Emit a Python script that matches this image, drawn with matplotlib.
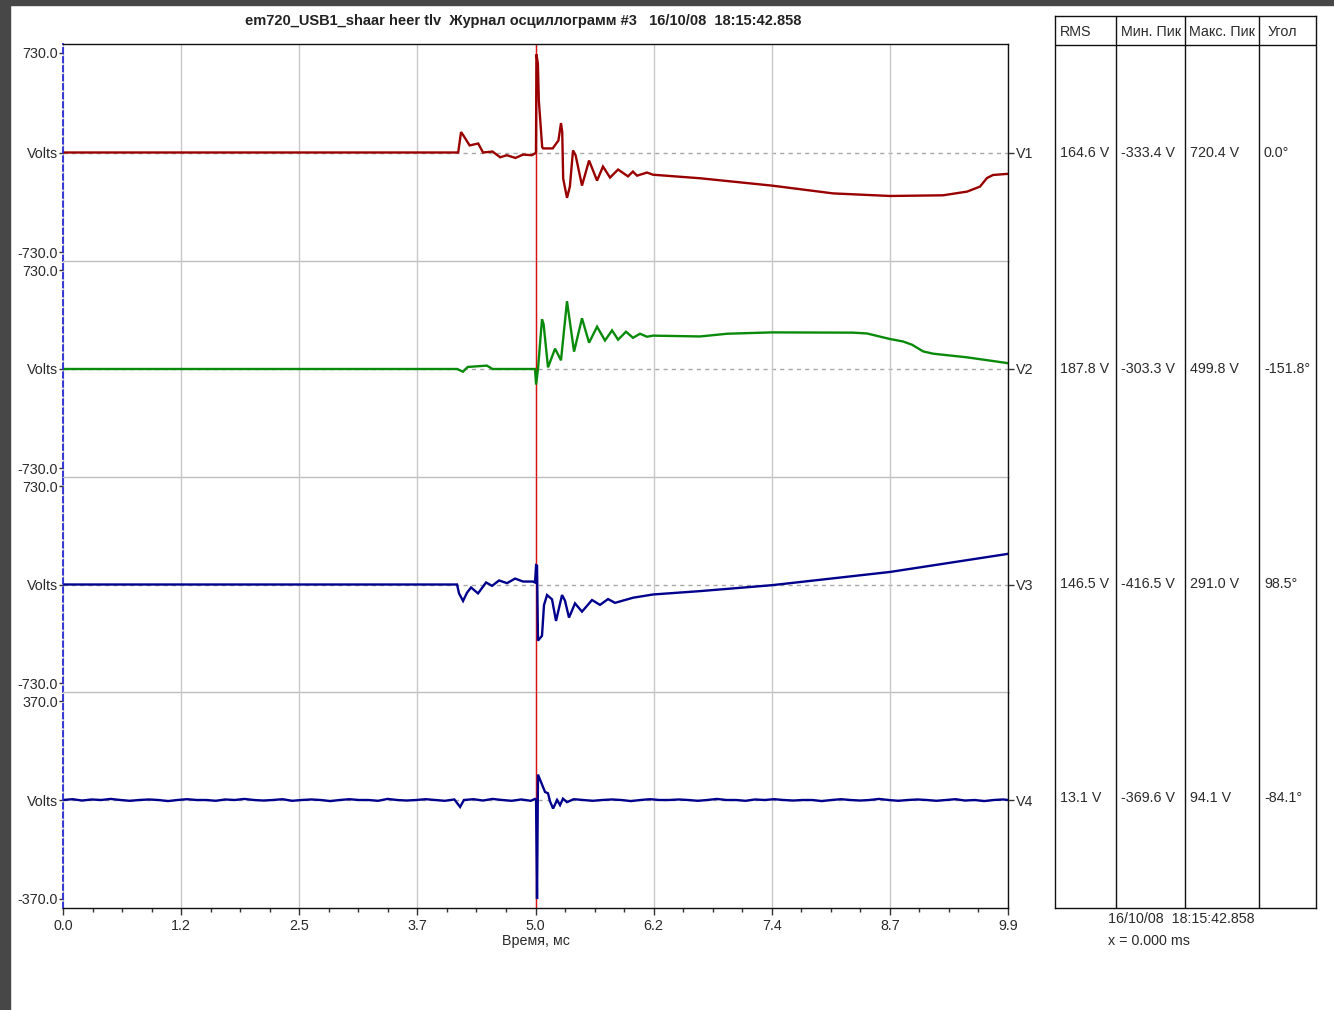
import matplotlib
matplotlib.use('Agg')
import matplotlib.pyplot as plt
from matplotlib.patches import Rectangle

plt.rcParams['font.family'] = ['Liberation Sans', 'DejaVu Sans']

# ---------------- data ----------------
title = "em720_USB1_shaar heer tlv  Журнал осциллограмм #3   16/10/08  18:15:42.858"
channels = ['V1', 'V2', 'V3', 'V4']
y_limits = [730.0, 730.0, 730.0, 370.0]
x_tick_labels = ['0.0', '1.2', '2.5', '3.7', '5.0', '6.2', '7.4', '8.7', '9.9']
t_end = 9.9
cursor_t = 4.95

t1 = [0.0, 4.14, 4.17, 4.19, 4.26, 4.35, 4.40, 4.50, 4.58, 4.65, 4.74, 4.82, 4.91, 4.945,
      4.955, 4.96, 4.975, 4.985, 5.02, 5.03, 5.13, 5.19, 5.217, 5.23, 5.24, 5.28, 5.31, 5.343,
      5.37, 5.437, 5.511, 5.595, 5.657, 5.731, 5.815, 5.919, 5.97, 6.014, 6.118, 6.181, 6.674,
      7.428, 8.067, 8.664, 9.219, 9.471, 9.607, 9.68, 9.743, 9.89, 9.9]
v1 = [0, 0, 150, 130, 52, 66, 0, 7, -35, -20, -40, -15, -20, -7,
      0, 720, 650, 380, 40, 30, 30, 88, 216, 150, -192, -333, -250, 15,
      -20, -243, -59, -206, -103, -184, -125, -175, -140, -170, -147, -163, -189,
      -243, -300, -319, -314, -287, -250, -187, -165, -157, -157]

t2 = [0.0, 4.13, 4.19, 4.24, 4.44, 4.50, 4.945, 4.956, 4.976, 5.018, 5.035, 5.081, 5.155,
      5.217, 5.28, 5.354, 5.437, 5.511, 5.595, 5.678, 5.752, 5.815, 5.898, 5.972, 6.045,
      6.118, 6.181, 6.674, 6.957, 7.428, 8.277, 8.423, 8.664, 8.80, 8.895, 9.01, 9.115,
      9.471, 9.89, 9.9]
v2 = [0, 0, -20, 15, 25, 0, 0, -115, 0, 366, 330, 12, 150,
      64, 500, 128, 374, 194, 312, 210, 285, 216, 275, 230, 260,
      238, 246, 240, 260, 270, 268, 262, 221, 203, 179, 130, 113,
      86, 44, 42]

t3 = [0.0, 4.128, 4.149, 4.191, 4.233, 4.275, 4.348, 4.432, 4.495, 4.568, 4.652, 4.736,
      4.819, 4.924, 4.945, 4.956, 4.966, 4.976, 5.018, 5.039, 5.071, 5.123, 5.165, 5.228,
      5.259, 5.301, 5.364, 5.437, 5.542, 5.626, 5.71, 5.783, 5.972, 6.181, 6.674, 7.428,
      8.664, 9.89, 9.9]
v3 = [0, 0, -66, -122, -60, -22, -66, 15, -10, 30, 10, 44,
      22, 22, 15, 143, 140, -416, -380, -152, -78, -110, -270, -78,
      -120, -245, -140, -201, -115, -151, -108, -136, -98, -74, -49, -5,
      93, 226, 228]

t4 = [0.0, 0.1, 0.2, 0.3, 0.4, 0.5, 0.6, 0.7, 0.8, 0.9,
      1.0, 1.1, 1.2, 1.3, 1.4, 1.5, 1.6, 1.7, 1.8, 1.9,
      2.0, 2.1, 2.2, 2.3, 2.4, 2.5, 2.6, 2.7, 2.8, 2.9,
      3.0, 3.1, 3.2, 3.3, 3.4, 3.5, 3.6, 3.7, 3.8, 3.9,
      4.0, 4.1, 4.16, 4.2, 4.3, 4.4, 4.5, 4.6, 4.7, 4.8, 4.9, 4.945,
      4.956, 4.966, 4.976, 5.018, 5.05, 5.081, 5.102, 5.134, 5.176, 5.207, 5.238, 5.28,
      5.35, 5.45, 5.55, 5.65, 5.75, 5.85, 5.95, 6.05, 6.15, 6.25,
      6.35, 6.45, 6.55, 6.65, 6.75, 6.85, 6.95, 7.05, 7.15, 7.25,
      7.35, 7.45, 7.55, 7.65, 7.75, 7.85, 7.95, 8.05, 8.15, 8.25,
      8.35, 8.45, 8.55, 8.65, 8.75, 8.85, 8.95, 9.05, 9.15, 9.25,
      9.35, 9.45, 9.55, 9.65, 9.75, 9.85, 9.9]
v4 = [0, 3, -2, 2, 0, 4, 0, -3, 0, 2,
      0, -4, 0, 3, 0, 0, -3, 2, 0, 4,
      0, -2, 0, 3, -3, 0, 2, 0, -4, 0,
      3, 0, 0, -3, 4, 0, -2, 0, 3, 0,
      -3, 2, -26, 0, 3, -2, 4, 0, -3, 2, -3, 4,
      0, -370, 95, 58, 30, 25, -5, -32, 0, -19, 5, -8,
      3, 0, -3, 0, 2, 0, -4, 0, 3, 0,
      0, 2, 0, -3, 0, 4, 0, 0, -3, 2,
      0, 3, 0, -2, 0, 0, -4, 0, 3, 0,
      -2, 0, 4, 0, -3, 0, 2, 0, -3, 0,
      3, -2, 0, -4, 0, 2, 0]

times = [t1, t2, t3, t4]
values = [v1, v2, v3, v4]
colors = ['#990000', '#0a8a0a', '#00008c', '#00008c']

table_header = ['RMS', 'Мин. Пик', 'Макс. Пик', 'Угол']
rms = ['164.6 V', '187.8 V', '146.5 V', '13.1 V']
min_pk = ['-333.4 V', '-303.3 V', '-416.5 V', '-369.6 V']
max_pk = ['720.4 V', '499.8 V', '291.0 V', '94.1 V']
angle = ['0.0°', '-151.8°', '98.5°', '-84.1°']
footer_time = '16/10/08  18:15:42.858'
footer_x = 'x = 0.000 ms'
x_label = 'Время, мс'

# ---------------- layout ----------------
W, H = 1334, 1010
fig = plt.figure(figsize=(W / 100, H / 100), dpi=100)
fig.patch.set_facecolor('white')
fig.patches.append(Rectangle((0, 0), 10 / W, 1, transform=fig.transFigure,
                             color='#474747', zorder=0))
fig.patches.append(Rectangle((0, 1 - 5 / H), 1, 5 / H, transform=fig.transFigure,
                             color='#474747', zorder=0))

def fx(px):
    return px / W

def fy(py):
    return 1 - py / H

txt_col = '#2a2a2a'
fs = 10.3
bounds = [44, 261, 477, 692, 908]
L, R = 63, 1008
major = [t_end * k / 8 for k in range(9)]
minor = [t_end * k / 32 for k in range(33)]

for i in range(4):
    top, bot = bounds[i], bounds[i + 1]
    ax = fig.add_axes([fx(L), fy(bot), (R - L) / W, (bot - top) / H])
    ax.set_facecolor('none')
    yl = y_limits[i]
    half_px = (bot - top) / 2
    lim = yl * half_px / (half_px - 9)
    ax.set_ylim(-lim, lim)
    ax.set_xlim(0, t_end)
    ax.set_yticks([-yl, 0, yl])
    ax.set_yticklabels([f'-{yl:.1f}', 'Volts', f'{yl:.1f}'], fontsize=fs, color=txt_col)
    ax.tick_params(axis='y', direction='out', length=3, width=1, colors='#333333',
                   labelcolor=txt_col, pad=0.5)
    ax.set_xticks(major)
    ax.grid(axis='x', color='#c8c8c8', lw=1, zorder=0)
    if i == 3:
        ax.set_xticks(minor, minor=True)
        ax.set_xticklabels(x_tick_labels, fontsize=fs, color=txt_col)
        ax.tick_params(axis='x', which='major', direction='out', length=5, width=1,
                       colors='#333333', labelcolor=txt_col, pad=3)
        ax.tick_params(axis='x', which='minor', direction='out', length=3, width=1,
                       colors='#333333')
    else:
        ax.tick_params(axis='x', length=0, labelbottom=False)
    for s in ['top', 'bottom', 'right', 'left']:
        ax.spines[s].set_linewidth(1)
        ax.spines[s].set_zorder(4)
    ax.spines['left'].set_color('#2a2ad8')
    ax.spines['left'].set_linewidth(1.3)
    ax.spines['left'].set_linestyle((0, (3, 2)))
    ax.spines['right'].set_color('#111111')
    ax.spines['top'].set_visible(i == 0)
    ax.spines['top'].set_color('#111111')
    ax.spines['bottom'].set_color('#111111' if i == 3 else '#bdbdbd')
    ax.axhline(0, color='#a8a8a8', lw=1, ls=(0, (3, 3)), zorder=1)
    ax.axvline(cursor_t, color='#e01010', lw=1, zorder=2.5)
    ax.plot(times[i], values[i], color=colors[i], lw=1.7, zorder=3,
            solid_joinstyle='miter')
    ax2 = ax.twinx()
    ax2.set_facecolor('none')
    ax2.set_ylim(-lim, lim)
    ax2.set_yticks([0])
    ax2.set_yticklabels([channels[i]], fontsize=fs, color=txt_col)
    ax2.tick_params(axis='y', direction='out', length=4, width=1, colors='#333333',
                    labelcolor=txt_col, pad=2)
    for s in ax2.spines.values():
        s.set_visible(False)

fig.text(fx(523), fy(21), title, ha='center', va='center', fontsize=10.5,
         fontweight='bold', color='#222222')
fig.text(fx(536), fy(941), x_label, ha='center', va='center', fontsize=fs, color=txt_col)

# table
tx0, tx1, ty0, ty1 = 1055, 1316, 16, 908
tab = fig.add_axes([fx(tx0), fy(ty1), (tx1 - tx0) / W, (ty1 - ty0) / H])
tab.set_xlim(tx0, tx1)
tab.set_ylim(ty1, ty0)
tab.set_xticks([])
tab.set_yticks([])
for s in tab.spines.values():
    s.set_color('#111111')
    s.set_linewidth(1)
col_edges = [1055, 1116, 1185, 1259]
for c in col_edges[1:]:
    tab.axvline(c, color='#111111', lw=1)
tab.axhline(45, color='#111111', lw=1)
hdr_off = [5, 5, 4, 9]
for j, h in enumerate(table_header):
    tab.text(col_edges[j] + hdr_off[j], 32, h, ha='left', va='center', fontsize=fs,
             color=txt_col)
row_y = [153, 369, 584, 798]
for r in range(4):
    for j, col in enumerate([rms, min_pk, max_pk, angle]):
        tab.text(col_edges[j] + 5, row_y[r], col[r], ha='left', va='center',
                 fontsize=fs, color=txt_col)

fig.text(fx(1108), fy(919), footer_time, ha='left', va='center', fontsize=fs, color=txt_col)
fig.text(fx(1108), fy(941), footer_x, ha='left', va='center', fontsize=fs, color=txt_col)

fig.savefig('out.png', dpi=100, facecolor='white')
